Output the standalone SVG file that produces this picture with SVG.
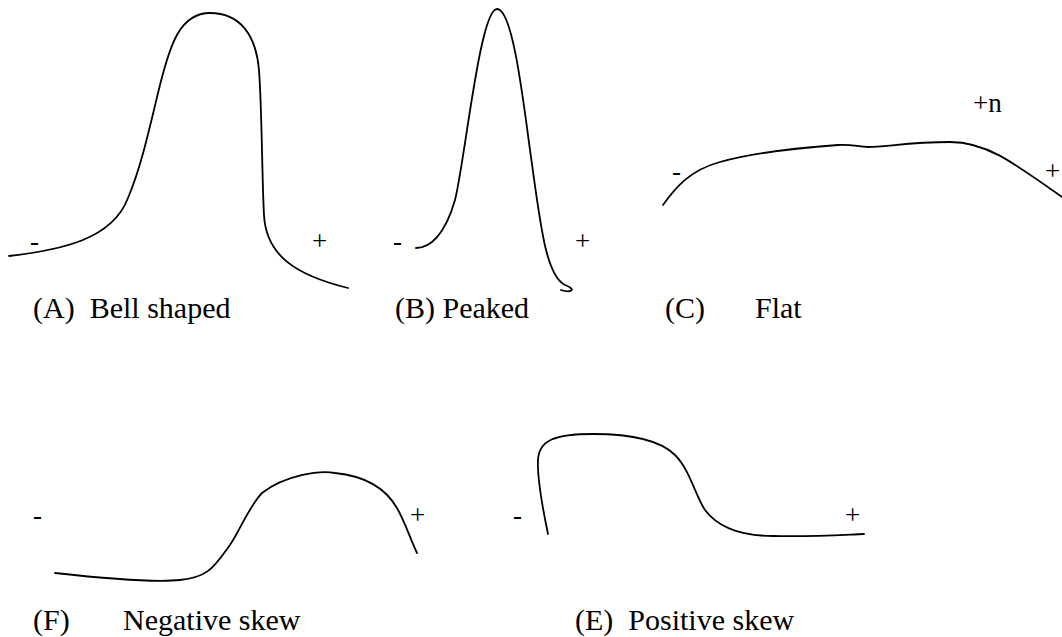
<svg xmlns="http://www.w3.org/2000/svg" width="1062" height="637" viewBox="0 0 1062 637">
<style>
.c{fill:none;stroke:#000;stroke-width:1.8;stroke-linecap:round;stroke-linejoin:round}
.s{font-family:"Liberation Serif","Times New Roman",serif;font-size:27px;fill:#000}
.l{font-family:"Liberation Serif","Times New Roman",serif;font-size:30px;fill:#000;white-space:pre}
</style>
<rect width="1062" height="637" fill="#fff"/>
<g id="bell">
<path class="c" d="M9,256 C60,250 112,240 128,198 C142,165 150,125 160,85 C170,45 180,13 210,13 C240,13 256,35 259,70 C262,110 262,180 264,215 C266,255 295,275 348,288"/>
<text class="s" x="30" y="250">-</text>
<text class="s" x="312" y="250">+</text>
<text class="l" x="33" y="318" xml:space="preserve">(A)  Bell shaped</text>
</g>
<g id="peaked">
<path class="c" d="M416,248 C430,248 445,235 455,200 C465,160 480,9 497,9 C512,9 522,90 530,150 C540,220 545,275 565,285 C578,290 570,293 561,290"/>
<text class="s" x="393" y="250">-</text>
<text class="s" x="575" y="250">+</text>
<text class="l" x="395" y="318">(B) Peaked</text>
</g>
<g id="flat">
<path class="c" d="M663,205 C675,188 690,170 720,162 C760,151 810,147 838,145 C852,144 858,147 868,147 C885,147 910,142 950,142 C985,142 1010,160 1062,197"/>
<text class="s" x="672" y="180">-</text>
<text class="s" x="1045" y="180">+</text>
<text class="s" x="973" y="112">+n</text>
<text class="l" x="665" y="318">(C)</text>
<text class="l" x="755" y="318">Flat</text>
</g>
<g id="negskew">
<path class="c" d="M55,573 C100,578 150,583 180,580 C210,577 215,565 230,545 C240,530 250,505 262,493 C285,475 320,470 335,473 C355,475 382,482 397,508 C405,522 410,538 417,553"/>
<text class="s" x="33" y="524">-</text>
<text class="s" x="410" y="524">+</text>
<text class="l" x="33" y="630">(F)</text>
<text class="l" x="123" y="630">Negative skew</text>
</g>
<g id="posskew">
<path class="c" d="M548,534 C543,510 537,480 538,460 C539,440 555,434 593,434 C630,434 660,440 675,455 C690,470 695,495 705,510 C720,530 745,536 773,536 C810,537 840,535 864,534"/>
<text class="s" x="513" y="524">-</text>
<text class="s" x="845" y="524">+</text>
<text class="l" x="575" y="630" xml:space="preserve">(E)  Positive skew</text>
</g>
</svg>
